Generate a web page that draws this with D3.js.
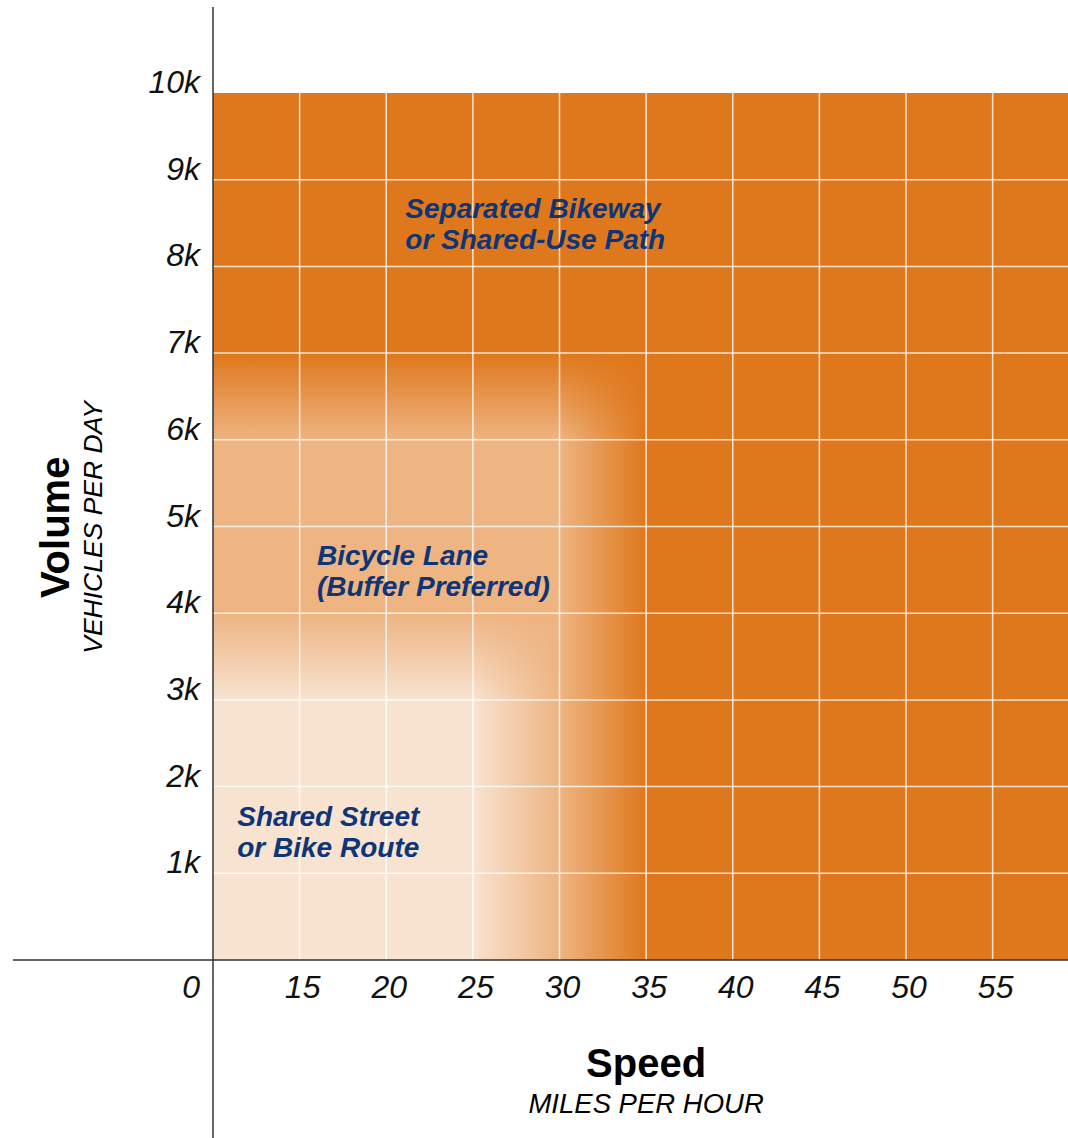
<!DOCTYPE html>
<html>
<head>
<meta charset="utf-8">
<script src="https://cdn.jsdelivr.net/npm/d3@7"></script>
<style>
  body { margin: 0; background: #fff; }
  svg text { font-family: "Liberation Sans", Helvetica, Arial, sans-serif; }
  .tick-label { font-style: italic; font-size: 32px; fill: #111; }
  .zone-label { font-style: italic; font-weight: bold; font-size: 28px; fill: #0d3577; }
</style>
</head>
<body>
<div id="chart"></div>
<script>
// speed (mph) gridlines and volume (vehicles/day) gridlines
var speedTicks = [15, 20, 25, 30, 35, 40, 45, 50, 55];
var volumeTicks = [1000, 2000, 3000, 4000, 5000, 6000, 7000, 8000, 9000, 10000];
var volumeLabels = ["1k", "2k", "3k", "4k", "5k", "6k", "7k", "8k", "9k", "10k"];

// facility zones, drawn from widest to narrowest
var zoneNames = ["Bicycle Lane", "Shared Street"];
var zoneSpeedFade = [30, 25];      // mph where the zone starts to fade out
var zoneSpeedMax = [35, 30];       // mph where the zone is gone
var zoneVolumeFade = [6000, 3000]; // vehicles/day where the zone starts to fade
var zoneVolumeMax = [7000, 4000];  // vehicles/day where the zone is gone
var zoneColors = ["#eeb482", "#f8e3d1"];

// labels placed at (speed, volume)
var labelLines = [
    ["Separated Bikeway", "or Shared-Use Path"],
    ["Bicycle Lane", "(Buffer Preferred)"],
    ["Shared Street", "or Bike Route"]
];
var labelSpeed = [21.1, 16.0, 11.4];
var labelVolume = [8560, 4560, 1540];

var width = 1068, height = 1138;
var baseColor = "#df781c";

var x = d3.scaleLinear()
    .domain([10, 59.35])
    .range([213, 1068]);
var y = d3.scaleLinear()
    .domain([0, 10000])
    .range([960, 93]);

var svg = d3.select("#chart").append("svg")
    .attr("width", width)
    .attr("height", height);

var defs = svg.append("defs");

defs.append("clipPath")
    .attr("id", "plot-clip")
    .append("rect")
    .attr("x", x(10))
    .attr("y", y(10000))
    .attr("width", x(59.35) - x(10))
    .attr("height", y(0) - y(10000));

// base area: separated bikeway everywhere
svg.append("rect")
    .attr("x", x(10))
    .attr("y", y(10000))
    .attr("width", x(59.35) - x(10))
    .attr("height", y(0) - y(10000))
    .attr("fill", baseColor);

var zoneLayer = svg.append("g").attr("clip-path", "url(#plot-clip)");

zoneNames.forEach(function (name, i) {
    // horizontal fade carried by the fill, vertical fade by a mask
    var hg = defs.append("linearGradient")
        .attr("id", "zone-h-" + i)
        .attr("gradientUnits", "userSpaceOnUse")
        .attr("x1", x(zoneSpeedFade[i])).attr("x2", x(zoneSpeedMax[i]))
        .attr("y1", 0).attr("y2", 0);
    hg.append("stop").attr("offset", 0).attr("stop-color", zoneColors[i]).attr("stop-opacity", 1);
    hg.append("stop").attr("offset", 1).attr("stop-color", zoneColors[i]).attr("stop-opacity", 0);

    var vg = defs.append("linearGradient")
        .attr("id", "zone-v-" + i)
        .attr("gradientUnits", "userSpaceOnUse")
        .attr("x1", 0).attr("x2", 0)
        .attr("y1", y(zoneVolumeFade[i])).attr("y2", y(zoneVolumeMax[i]));
    vg.append("stop").attr("offset", 0).attr("stop-color", "#fff");
    vg.append("stop").attr("offset", 1).attr("stop-color", "#000");

    defs.append("mask")
        .attr("id", "zone-m-" + i)
        .attr("maskUnits", "userSpaceOnUse")
        .attr("x", 0).attr("y", 0).attr("width", width).attr("height", height)
        .append("rect")
        .attr("x", 0).attr("y", 0).attr("width", width).attr("height", height)
        .attr("fill", "url(#zone-v-" + i + ")");

    zoneLayer.append("rect")
        .attr("class", "zone")
        .attr("x", x(10))
        .attr("y", y(zoneVolumeMax[i]))
        .attr("width", x(zoneSpeedMax[i]) - x(10))
        .attr("height", y(0) - y(zoneVolumeMax[i]))
        .attr("fill", "url(#zone-h-" + i + ")")
        .attr("mask", "url(#zone-m-" + i + ")");
});

// grid
var grid = svg.append("g")
    .attr("stroke", "#fff")
    .attr("stroke-opacity", 0.8)
    .attr("stroke-width", 1.5);

grid.selectAll(".vgrid")
    .data(speedTicks)
    .enter().append("line")
    .attr("x1", function (d) { return x(d); })
    .attr("x2", function (d) { return x(d); })
    .attr("y1", y(10000))
    .attr("y2", y(0));

grid.selectAll(".hgrid")
    .data(volumeTicks.filter(function (d) { return d < 10000; }))
    .enter().append("line")
    .attr("x1", x(10))
    .attr("x2", x(59.35))
    .attr("y1", function (d) { return y(d); })
    .attr("y2", function (d) { return y(d); });

// axis lines
svg.append("line")
    .attr("x1", x(10)).attr("x2", x(10))
    .attr("y1", 7).attr("y2", height)
    .attr("stroke", "#333").attr("stroke-width", 1.5);
svg.append("line")
    .attr("x1", 13).attr("x2", width)
    .attr("y1", y(0)).attr("y2", y(0))
    .attr("stroke", "#333").attr("stroke-width", 1.5);

// tick labels
svg.selectAll(".ylab")
    .data(volumeTicks)
    .enter().append("text")
    .attr("class", "tick-label")
    .attr("x", x(10) - 13)
    .attr("y", function (d) { return y(d); })
    .attr("text-anchor", "end")
    .text(function (d, i) { return volumeLabels[i]; });

svg.append("text")
    .attr("class", "tick-label")
    .attr("x", x(10) - 13)
    .attr("y", y(0) + 38)
    .attr("text-anchor", "end")
    .text("0");

svg.selectAll(".xlab")
    .data(speedTicks)
    .enter().append("text")
    .attr("class", "tick-label")
    .attr("x", function (d) { return x(d) + 3; })
    .attr("y", y(0) + 38)
    .attr("text-anchor", "middle")
    .text(function (d) { return d; });

// axis titles
svg.append("text")
    .attr("x", x(35))
    .attr("y", 1077)
    .attr("text-anchor", "middle")
    .style("font-weight", "bold")
    .style("font-size", "40px")
    .text("Speed");
svg.append("text")
    .attr("x", x(35))
    .attr("y", 1113)
    .attr("text-anchor", "middle")
    .style("font-style", "italic")
    .style("font-size", "27.5px")
    .text("MILES PER HOUR");

svg.append("text")
    .attr("transform", "translate(69," + y(4990) + ") rotate(-90)")
    .attr("text-anchor", "middle")
    .style("font-weight", "bold")
    .style("font-size", "40px")
    .text("Volume");
svg.append("text")
    .attr("transform", "translate(102," + y(4990) + ") rotate(-90)")
    .attr("text-anchor", "middle")
    .style("font-style", "italic")
    .style("font-size", "26.5px")
    .text("VEHICLES PER DAY");

// zone labels
labelLines.forEach(function (lines, i) {
    var t = svg.append("text")
        .attr("class", "zone-label")
        .attr("x", x(labelSpeed[i]))
        .attr("y", y(labelVolume[i]));
    lines.forEach(function (line, j) {
        t.append("tspan")
            .attr("x", x(labelSpeed[i]))
            .attr("dy", j === 0 ? 0 : 31)
            .text(line);
    });
});
</script>
</body>
</html>
